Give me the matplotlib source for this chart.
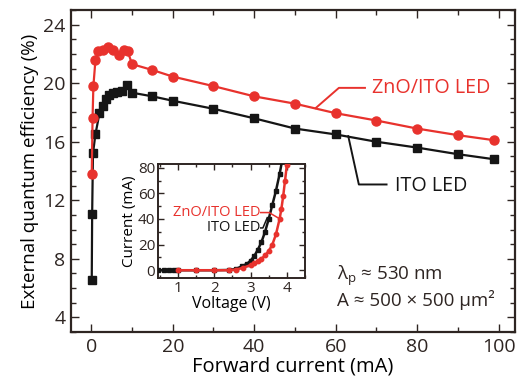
import matplotlib
matplotlib.use("Agg")
import matplotlib.pyplot as plt
from matplotlib.ticker import MultipleLocator

# ── Data ──────────────────────────────────────────────────────────────────────

# main panel: EQE vs forward current
zno_current = [0.1, 0.3, 0.5, 1, 1.7, 2.8, 4, 5.2, 6.7, 7.9, 8.9, 10,
               15, 20, 30, 40, 50, 60, 70, 80, 90, 99]
zno_eqe     = [13.8, 17.6, 19.8, 21.55, 22.2, 22.3, 22.45, 22.25, 21.9, 22.3, 22.2, 21.3,
               20.9, 20.45, 19.8, 19.1, 18.6, 17.95, 17.45, 16.9, 16.45, 16.1]

ito_current = [0.1, 0.2, 0.4, 1, 2, 2.8, 3.6, 4.4, 5.4, 6.4, 7.5, 8.7, 10,
               15, 20, 30, 40, 50, 60, 70, 80, 90, 99]
ito_eqe     = [6.55, 11.05, 15.2, 16.5, 17.95, 18.45, 18.9, 19.2, 19.35, 19.4, 19.5, 19.9, 19.35,
               19.1, 18.8, 18.25, 17.6, 16.9, 16.5, 16.0, 15.6, 15.15, 14.8]

# inset: I-V curves
ito_volt = [0.45, 0.6, 0.75, 0.9, 1.0, 1.5, 2.0, 2.4, 2.6, 2.75, 2.9, 3.0, 3.1, 3.2,
            3.3, 3.4, 3.5, 3.6, 3.7, 3.8, 3.9]
ito_amp  = [0, 0, 0, 0, 0, 0, 0, 0.2, 1, 3, 5, 7.5, 11, 16,
            22, 30, 40, 51, 62, 75, 90]

zno_volt = [1.0, 1.5, 2.0, 2.4, 2.6, 2.8, 3.0, 3.1, 3.2, 3.3, 3.4, 3.5, 3.6,
            3.7, 3.8, 3.85, 3.9, 3.95, 4.0]
zno_amp  = [0, 0, 0, 0, 0.5, 2, 4, 5.5, 7, 9, 11.5, 15, 20,
            28, 40, 48, 58, 70, 82]

RED   = "#e8322d"
BLACK = "#151515"
TEXT  = "#2e2522"

plt.rcParams["font.family"] = ["Open Sans", "DejaVu Sans"]
plt.rcParams["text.color"] = TEXT
plt.rcParams["axes.edgecolor"] = TEXT
plt.rcParams["xtick.color"] = TEXT
plt.rcParams["ytick.color"] = TEXT


def style_ticks(ax, size, major_len, minor_len):
    ax.tick_params(which="both", direction="in", top=True, right=True,
                   labelsize=size, width=1.0, pad=4)
    ax.tick_params(which="major", length=major_len)
    ax.tick_params(which="minor", length=minor_len)


fig = plt.figure(figsize=(5.2, 3.92), dpi=100)

# ── Main panel ────────────────────────────────────────────────────────────────
ax = fig.add_axes([0.1365, 0.153, 0.8535, 0.8215])
ax.plot(ito_current, ito_eqe, "-s", color=BLACK, lw=1.6, ms=5.5, zorder=3)
ax.plot(zno_current, zno_eqe, "-o", color=RED, lw=1.6, ms=6.5, zorder=4)

ax.set_xlim(-5, 104)
ax.set_ylim(3, 25)
ax.xaxis.set_major_locator(MultipleLocator(20))
ax.xaxis.set_minor_locator(MultipleLocator(10))
ax.yaxis.set_major_locator(MultipleLocator(4))
ax.yaxis.set_minor_locator(MultipleLocator(1))
style_ticks(ax, 14, 6, 3.5)
for s in ax.spines.values():
    s.set_linewidth(1.6)

ax.set_xlabel("Forward current (mA)", fontsize=14.5, labelpad=1)
ax.set_ylabel("External quantum efficiency (%)", fontsize=13.5, labelpad=3)

# leader lines + labels
ax.plot([55.1, 60.8, 67.2], [18.3, 19.68, 19.68], color=RED, lw=1.4, zorder=5)
ax.text(68.9, 19.68, "ZnO/ITO LED", color=RED, fontsize=14.2, va="center", ha="left")
ax.plot([63.1, 65.7, 72.5], [16.38, 13.08, 13.08], color=BLACK, lw=1.4, zorder=5)
ax.text(74.7, 12.96, "ITO LED", color=BLACK, fontsize=14.2, va="center", ha="left")

ax.text(60.3, 6.82, r"λ$_\mathregular{p}$ ≈ 530 nm", fontsize=13.5, va="center", ha="left")
ax.text(60.3, 5.2, "A ≈ 500 × 500 μm²", fontsize=13.5, va="center", ha="left")

# ── Inset ─────────────────────────────────────────────────────────────────────
ins = fig.add_axes([0.304, 0.291, 0.2825, 0.291])
ins.plot(ito_volt, ito_amp, "-s", color=BLACK, lw=1.8, ms=2.8, zorder=3)
ins.plot(zno_volt, zno_amp, "-o", color=RED, lw=1.8, ms=3.2, zorder=4)
ins.set_xlim(0.45, 4.5)
ins.set_ylim(-6, 83)
ins.xaxis.set_major_locator(MultipleLocator(1))
ins.xaxis.set_minor_locator(MultipleLocator(0.5))
ins.yaxis.set_major_locator(MultipleLocator(20))
ins.yaxis.set_minor_locator(MultipleLocator(10))
style_ticks(ins, 11, 4, 2.5)
ins.tick_params(pad=2)
for s in ins.spines.values():
    s.set_linewidth(1.4)
ins.set_xlabel("Voltage (V)", fontsize=11.5, labelpad=0)
ins.set_ylabel("Current (mA)", fontsize=11, labelpad=1)

ins.plot([3.28, 3.51, 3.81], [45, 45, 40], color=RED, lw=1.1, zorder=5)
ins.text(3.26, 45, "ZnO/ITO LED", color=RED, fontsize=10.5, va="center", ha="right")
ins.plot([3.28, 3.34, 3.46], [33, 33, 41], color=BLACK, lw=1.1, zorder=5)
ins.text(3.26, 33, "ITO LED", color=BLACK, fontsize=10.5, va="center", ha="right")

fig.savefig("out.png", dpi=100)
